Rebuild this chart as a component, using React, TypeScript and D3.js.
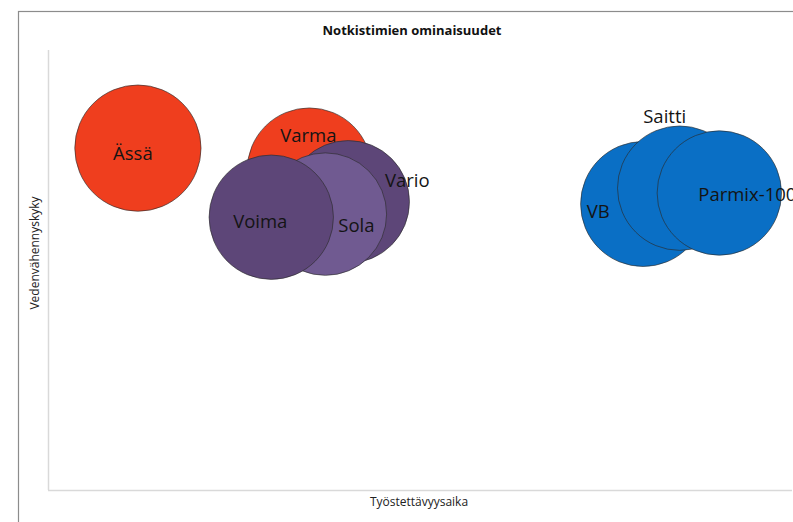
import React from "react";
import * as d3 from "d3";

const names = ["Ässä", "Varma", "Vario", "Sola", "Voima", "VB", "Saitti", "Parmix-100"];
const workability = [11.8, 34.3, 39.4, 36.4, 29.3, 78.1, 82.9, 88.1];
const waterReduction = [77.7, 72.7, 65.5, 62.7, 62.0, 65.0, 68.6, 67.5];
const bubbleSize = [10.2, 9.9, 9.6, 9.6, 9.9, 10.0, 9.9, 9.9];
const groups = ["red", "red", "purple", "lightPurple", "purple", "blue", "blue", "blue"];
const labelDx = [-5, -1, 59, 31, -11, -45, -15, 28];
const labelDy = [4, -36, -22, 10, 3, 6, -73, 0];

const colors: Record<string, string> = {
  red: "#EF3E1E",
  purple: "#5D4678",
  lightPurple: "#705A91",
  blue: "#0A6FC5",
};

const W = 793;
const H = 522;

export default function App() {
  const x = d3.scaleLinear().domain([0, 100]).range([48, 810]);
  const y = d3.scaleLinear().domain([0, 100]).range([490, 50]);
  const r = d3.scaleSqrt().domain([0, 10]).range([0, 62.5]);
  const data = names.map((n, i) => ({
    name: n,
    x: workability[i],
    y: waterReduction[i],
    s: bubbleSize[i],
    g: groups[i],
    dx: labelDx[i],
    dy: labelDy[i],
  }));
  const font = "'Open Sans', 'Noto Sans', sans-serif";
  return (
    <svg width={W} height={H} style={{ position: "absolute", left: 0, top: 0, background: "#fff" }}>
      <rect x={18.5} y={11.5} width={900} height={700} fill="#fff" stroke="#8c8c8c" strokeWidth={1.2} />
      <text x={412} y={35} textAnchor="middle" fontFamily={font} fontWeight="bold" fontSize={13} fill="#111">
        Notkistimien ominaisuudet
      </text>
      <line x1={48.5} x2={48.5} y1={50} y2={490} stroke="#d9d9d9" strokeWidth={1.5} />
      <line x1={48} x2={792} y1={490.5} y2={490.5} stroke="#d9d9d9" strokeWidth={1.5} />
      {data.map((d) => (
        <circle
          key={d.name}
          cx={x(d.x)}
          cy={y(d.y)}
          r={r(d.s)}
          fill={colors[d.g]}
          stroke="#2a2a2a"
          strokeOpacity={0.8}
          strokeWidth={0.8}
        />
      ))}
      {data.map((d) => (
        <text
          key={"l" + d.name}
          x={x(d.x) + d.dx}
          y={y(d.y) + d.dy}
          textAnchor="middle"
          dominantBaseline="central"
          fontFamily={font}
          fontSize={18.5}
          fill="#141414"
        >
          {d.name}
        </text>
      ))}
      <text x={419} y={506} textAnchor="middle" fontFamily={font} fontSize={12} fill="#222">
        Työstettävyysaika
      </text>
      <text
        transform="translate(39,253) rotate(-90)"
        textAnchor="middle"
        fontFamily={font}
        fontSize={12}
        fill="#222"
      >
        Vedenvähennyskyky
      </text>
    </svg>
  );
}
